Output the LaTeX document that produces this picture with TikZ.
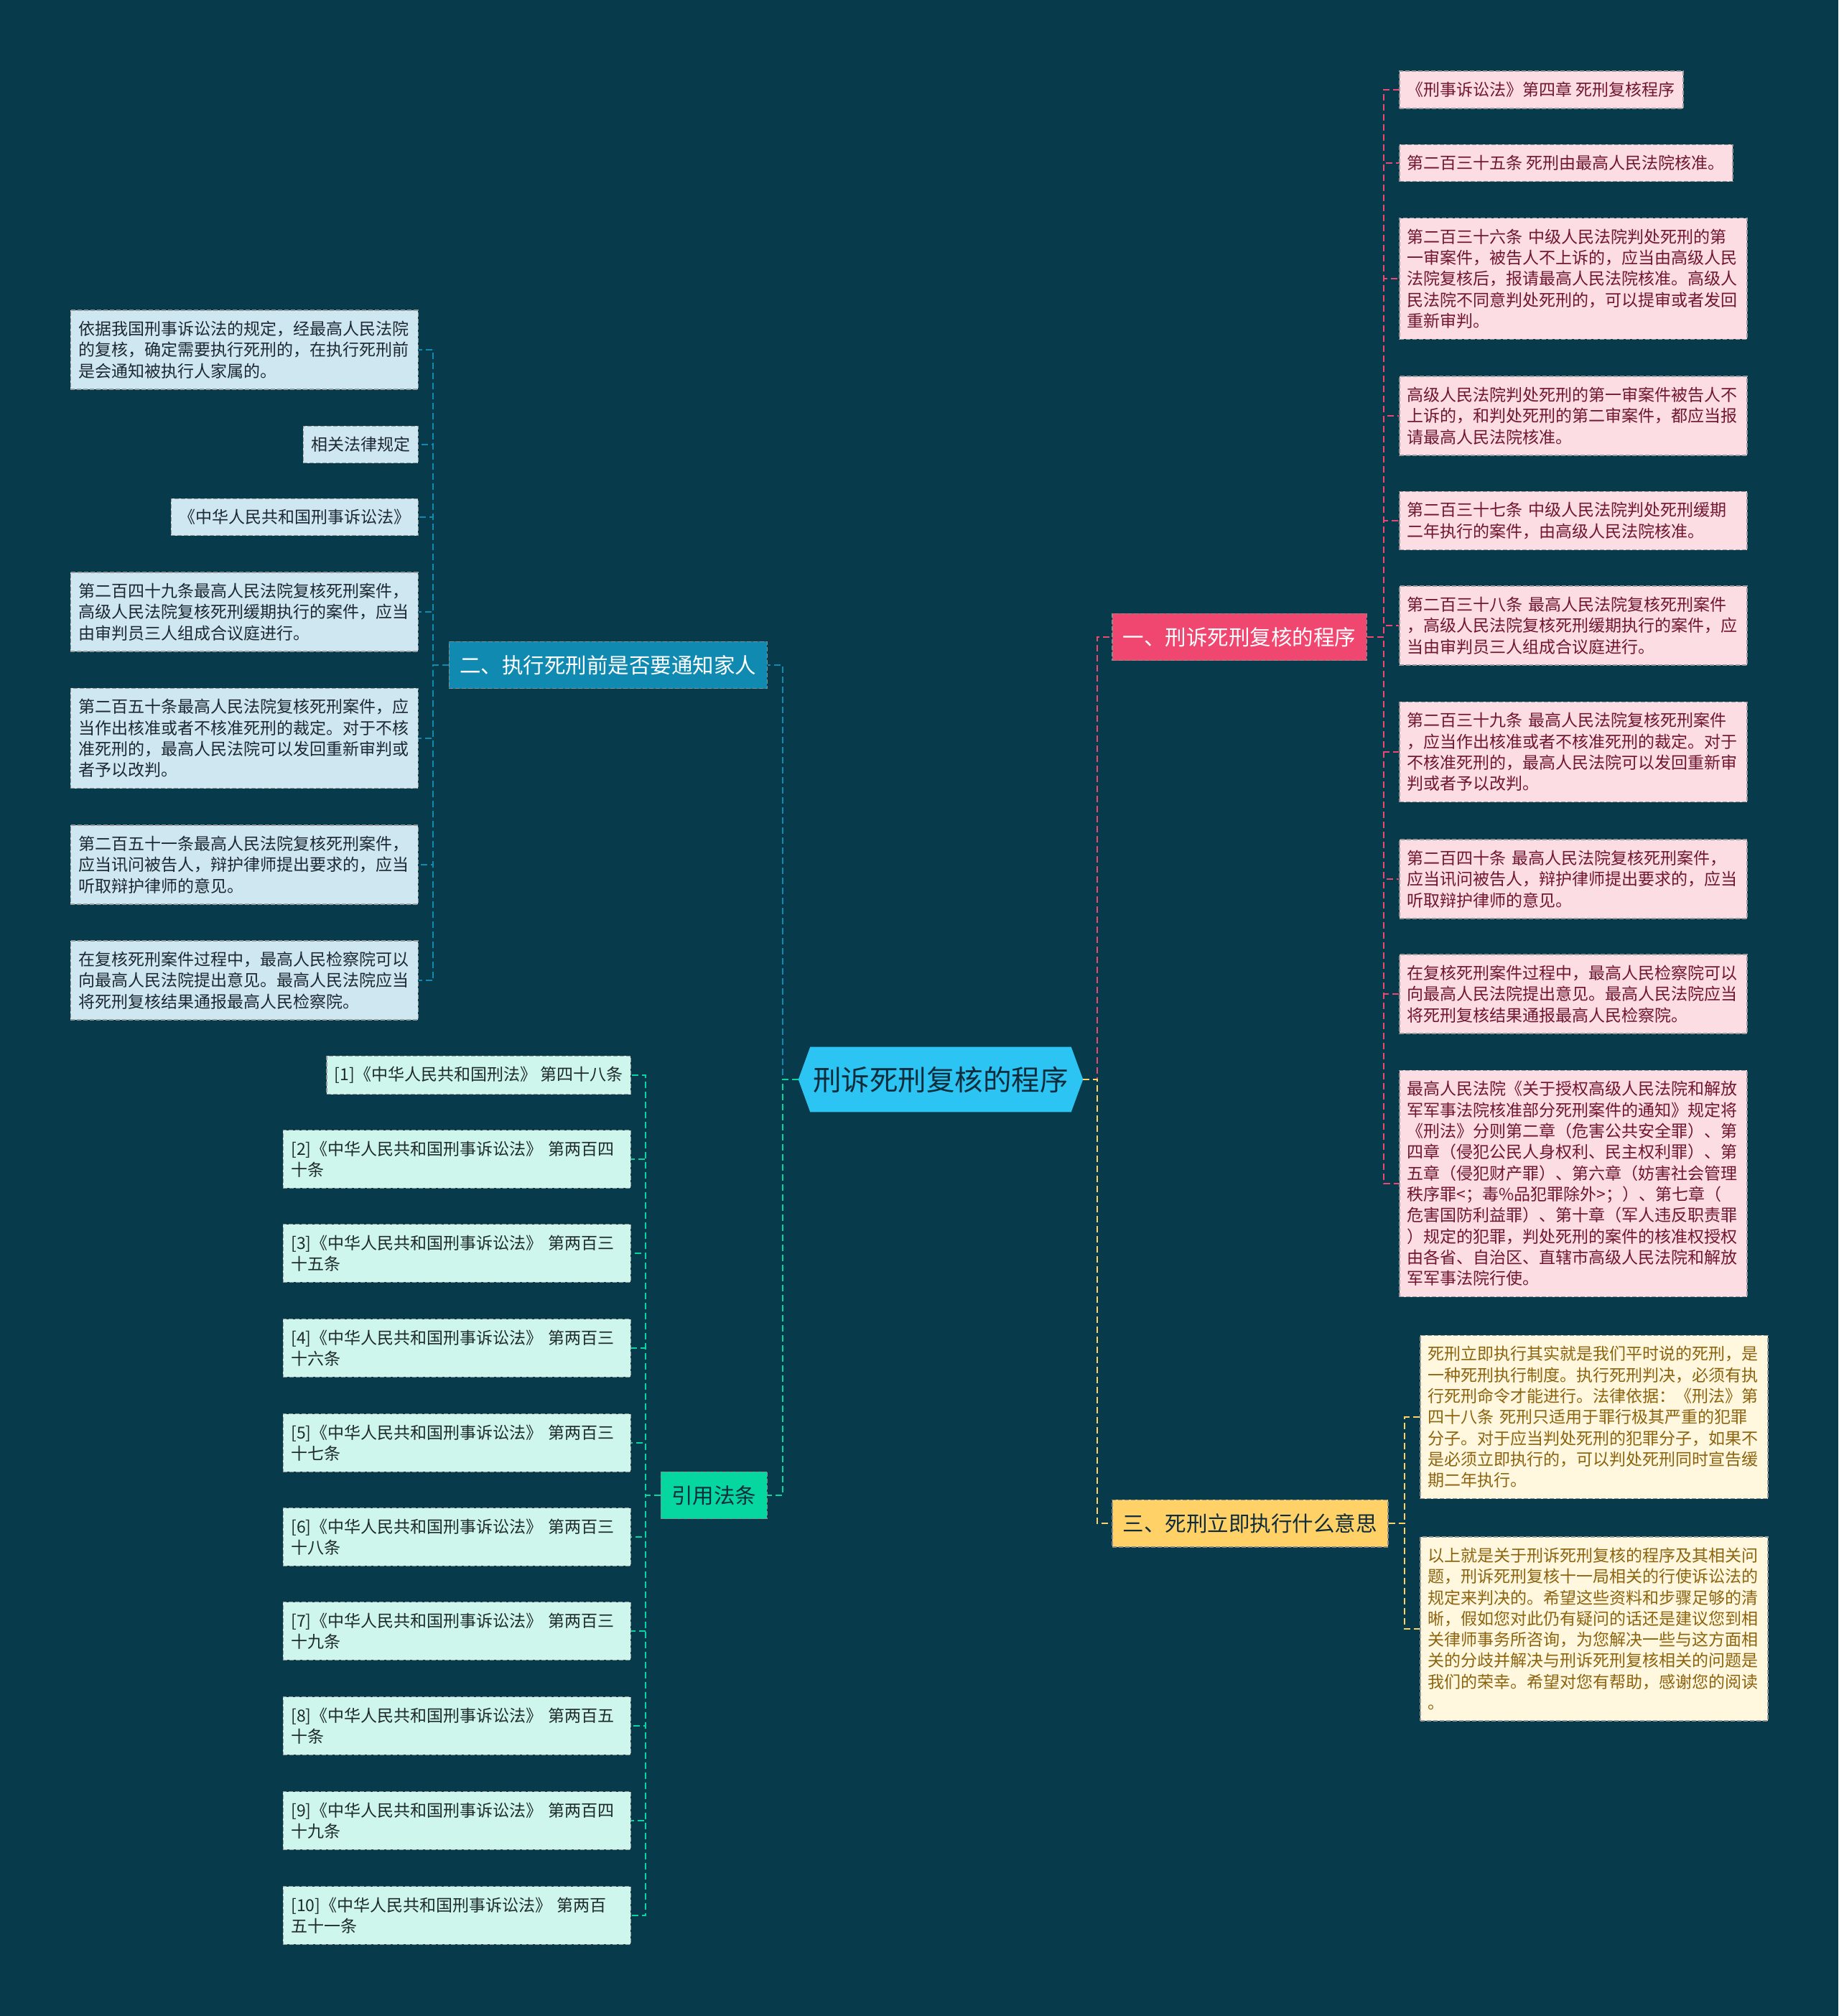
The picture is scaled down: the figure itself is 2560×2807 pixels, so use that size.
\documentclass[tikz,border=0pt]{standalone}
\usepackage{fontspec}
\setmainfont{Noto Sans CJK SC}
\usepackage{tikz}
\usetikzlibrary{shapes.symbols}
\usepackage{xcolor}
\definecolor{mapbg}{RGB}{7,59,76}
\definecolor{rootblue}{RGB}{44,196,242}
\definecolor{roottext}{RGB}{14,44,60}
\definecolor{mapred}{RGB}{239,71,111}
\definecolor{mapblue}{RGB}{17,138,178}
\definecolor{mapgreen}{RGB}{6,214,160}
\definecolor{mapyellow}{RGB}{255,209,102}
\definecolor{leafredfill}{RGB}{252,221,228}
\definecolor{leafredtext}{RGB}{112,22,46}
\definecolor{leafbluefill}{RGB}{207,231,240}
\definecolor{leafbluetext}{RGB}{28,40,52}
\definecolor{leafgreenfill}{RGB}{206,246,236}
\definecolor{leafgreentext}{RGB}{30,42,44}
\definecolor{leafyellowfill}{RGB}{255,247,222}
\definecolor{leafyellowtext}{RGB}{140,100,16}
\newcommand{\rootfont}{\fontsize{39.5}{46}\selectfont}
\newcommand{\branchfont}{\fontsize{29.5}{35}\selectfont}
\newcommand{\leaffont}{\fontsize{23}{29.3}\selectfont}
\tikzset{
    topic/.style={signal, signal to=west and east, signal pointer angle=140, fill=rootblue, text=roottext, font=\rootfont, inner xsep=4pt, inner ysep=27pt},
    branch/.style={rectangle, draw=black!45, dash pattern=on 6pt off 3pt, line width=1.5pt, font=\branchfont, inner xsep=15pt, inner ysep=19pt},
    branchR/.style={branch, fill=mapred, text=white},
    branchB/.style={branch, fill=mapblue, text=white},
    branchG/.style={branch, fill=mapgreen, text=roottext},
    branchY/.style={branch, fill=mapyellow, text=roottext},
    leaf/.style={rectangle, draw=black!40, dash pattern=on 6pt off 3pt, line width=1.5pt, font=\leaffont, inner xsep=11pt, inner ysep=15pt, align=left},
    leafR/.style={leaf, fill=leafredfill, text=leafredtext},
    leafB/.style={leaf, fill=leafbluefill, text=leafbluetext},
    leafG/.style={leaf, fill=leafgreenfill, text=leafgreentext},
    leafY/.style={leaf, fill=leafyellowfill, text=leafyellowtext},
    wide/.style={text width=462pt},
    link/.style={line width=2pt, dash pattern=on 9pt off 5pt},
    linkR/.style={link, mapred},
    linkB/.style={link, mapblue},
    linkG/.style={link, mapgreen},
    linkY/.style={link, mapyellow},
}

\begin{document}
\begin{tikzpicture}[x=1pt, y=-1pt]
    \fill[mapbg] (0,0) rectangle (2560,2807);
    \useasboundingbox (0,0) rectangle (2560,2807);

    % centre and main branches
    \node[topic] (root) at (1310,1503) {刑诉死刑复核的程序};
    \node[branchR, anchor=west] (b1) at (1548,887) {一、刑诉死刑复核的程序};
    \node[branchB, anchor=east] (b2) at (1069,926) {二、执行死刑前是否要通知家人};
    \node[branchY, anchor=west] (b3) at (1548,2121) {三、死刑立即执行什么意思};
    \node[branchG, anchor=east] (b4) at (1069,2082) {引用法条};

    \coordinate (jl) at (1090,1503);
    \coordinate (jr) at (1528,1503);
    \coordinate (tR) at (1927,887);
    \coordinate (tB) at (603,926);
    \coordinate (tY) at (1956,2121);
    \coordinate (tG) at (899,2082);

    % branch one
    \node[leafR, anchor=west] (r1) at (1948,125) {《刑事诉讼法》第四章 死刑复核程序};
    \node[leafR, anchor=west] (r2) at (1948,227) {第二百三十五条 死刑由最高人民法院核准。};
    \node[leafR, wide, anchor=west] (r3) at (1948,388) {第二百三十六条 中级人民法院判处死刑的第\\一审案件，被告人不上诉的，应当由高级人民\\法院复核后，报请最高人民法院核准。高级人\\民法院不同意判处死刑的，可以提审或者发回\\重新审判。};
    \node[leafR, wide, anchor=west] (r4) at (1948,579) {高级人民法院判处死刑的第一审案件被告人不\\上诉的，和判处死刑的第二审案件，都应当报\\请最高人民法院核准。};
    \node[leafR, wide, anchor=west] (r5) at (1948,725) {第二百三十七条 中级人民法院判处死刑缓期\\二年执行的案件，由高级人民法院核准。};
    \node[leafR, wide, anchor=west] (r6) at (1948,871) {第二百三十八条 最高人民法院复核死刑案件\\，高级人民法院复核死刑缓期执行的案件，应\\当由审判员三人组成合议庭进行。};
    \node[leafR, wide, anchor=west] (r7) at (1948,1047) {第二百三十九条 最高人民法院复核死刑案件\\，应当作出核准或者不核准死刑的裁定。对于\\不核准死刑的，最高人民法院可以发回重新审\\判或者予以改判。};
    \node[leafR, wide, anchor=west] (r8) at (1948,1224) {第二百四十条 最高人民法院复核死刑案件，\\应当讯问被告人，辩护律师提出要求的，应当\\听取辩护律师的意见。};
    \node[leafR, wide, anchor=west] (r9) at (1948,1384) {在复核死刑案件过程中，最高人民检察院可以\\向最高人民法院提出意见。最高人民法院应当\\将死刑复核结果通报最高人民检察院。};
    \node[leafR, wide, anchor=west] (r10) at (1948,1648) {最高人民法院《关于授权高级人民法院和解放\\军军事法院核准部分死刑案件的通知》规定将\\《刑法》分则第二章（危害公共安全罪）、第\\四章（侵犯公民人身权利、民主权利罪）、第\\五章（侵犯财产罪）、第六章（妨害社会管理\\秩序罪<；毒\%品犯罪除外>；）、第七章（\\危害国防利益罪）、第十章（军人违反职责罪\\）规定的犯罪，判处死刑的案件的核准权授权\\由各省、自治区、直辖市高级人民法院和解放\\军军事法院行使。};

    % branch two
    \node[leafB, wide, anchor=east] (l1) at (583,487) {依据我国刑事诉讼法的规定，经最高人民法院\\的复核，确定需要执行死刑的，在执行死刑前\\是会通知被执行人家属的。};
    \node[leafB, anchor=east] (l2) at (583,619) {相关法律规定};
    \node[leafB, anchor=east] (l3) at (583,720) {《中华人民共和国刑事诉讼法》};
    \node[leafB, wide, anchor=east] (l4) at (583,852) {第二百四十九条最高人民法院复核死刑案件，\\高级人民法院复核死刑缓期执行的案件，应当\\由审判员三人组成合议庭进行。};
    \node[leafB, wide, anchor=east] (l5) at (583,1028) {第二百五十条最高人民法院复核死刑案件，应\\当作出核准或者不核准死刑的裁定。对于不核\\准死刑的，最高人民法院可以发回重新审判或\\者予以改判。};
    \node[leafB, wide, anchor=east] (l6) at (583,1204) {第二百五十一条最高人民法院复核死刑案件，\\应当讯问被告人，辩护律师提出要求的，应当\\听取辩护律师的意见。};
    \node[leafB, wide, anchor=east] (l7) at (583,1365) {在复核死刑案件过程中，最高人民检察院可以\\向最高人民法院提出意见。最高人民法院应当\\将死刑复核结果通报最高人民检察院。};

    % branch three
    \node[leafY, wide, anchor=west] (y1) at (1977,1973) {死刑立即执行其实就是我们平时说的死刑，是\\一种死刑执行制度。执行死刑判决，必须有执\\行死刑命令才能进行。法律依据：《刑法》第\\四十八条 死刑只适用于罪行极其严重的犯罪\\分子。对于应当判处死刑的犯罪分子，如果不\\是必须立即执行的，可以判处死刑同时宣告缓\\期二年执行。};
    \node[leafY, wide, anchor=west] (y2) at (1977,2268) {以上就是关于刑诉死刑复核的程序及其相关问\\题，刑诉死刑复核十一局相关的行使诉讼法的\\规定来判决的。希望这些资料和步骤足够的清\\晰，假如您对此仍有疑问的话还是建议您到相\\关律师事务所咨询，为您解决一些与这方面相\\关的分歧并解决与刑诉死刑复核相关的问题是\\我们的荣幸。希望对您有帮助，感谢您的阅读\\。};

    % cited articles
    \node[leafG, anchor=east] (g1) at (879,1497) {[1]《中华人民共和国刑法》 第四十八条};
    \node[leafG, wide, anchor=east] (g2) at (879,1614) {[2]《中华人民共和国刑事诉讼法》 第两百四\\十条};
    \node[leafG, wide, anchor=east] (g3) at (879,1745) {[3]《中华人民共和国刑事诉讼法》 第两百三\\十五条};
    \node[leafG, wide, anchor=east] (g4) at (879,1877) {[4]《中华人民共和国刑事诉讼法》 第两百三\\十六条};
    \node[leafG, wide, anchor=east] (g5) at (879,2009) {[5]《中华人民共和国刑事诉讼法》 第两百三\\十七条};
    \node[leafG, wide, anchor=east] (g6) at (879,2140) {[6]《中华人民共和国刑事诉讼法》 第两百三\\十八条};
    \node[leafG, wide, anchor=east] (g7) at (879,2271) {[7]《中华人民共和国刑事诉讼法》 第两百三\\十九条};
    \node[leafG, wide, anchor=east] (g8) at (879,2403) {[8]《中华人民共和国刑事诉讼法》 第两百五\\十条};
    \node[leafG, wide, anchor=east] (g9) at (879,2535) {[9]《中华人民共和国刑事诉讼法》 第两百四\\十九条};
    \node[leafG, wide, anchor=east] (g10) at (879,2667) {[10]《中华人民共和国刑事诉讼法》 第两百\\五十一条};

    % links from the centre
    \draw[linkR] (root.east) -- (jr) |- (b1.west);
    \draw[linkY] (root.east) -- (jr) |- (b3.west);
    \draw[linkB] (root.west) -- (jl) |- (b2.east);
    \draw[linkG] (root.west) -- (jl) |- (b4.east);

    % links to the leaves
    \draw[linkR] (b1.east) -- (tR) |- (r1.west);
    \draw[linkR] (b1.east) -- (tR) |- (r2.west);
    \draw[linkR] (b1.east) -- (tR) |- (r3.west);
    \draw[linkR] (b1.east) -- (tR) |- (r4.west);
    \draw[linkR] (b1.east) -- (tR) |- (r5.west);
    \draw[linkR] (b1.east) -- (tR) |- (r6.west);
    \draw[linkR] (b1.east) -- (tR) |- (r7.west);
    \draw[linkR] (b1.east) -- (tR) |- (r8.west);
    \draw[linkR] (b1.east) -- (tR) |- (r9.west);
    \draw[linkR] (b1.east) -- (tR) |- (r10.west);
    \draw[linkB] (b2.west) -- (tB) |- (l1.east);
    \draw[linkB] (b2.west) -- (tB) |- (l2.east);
    \draw[linkB] (b2.west) -- (tB) |- (l3.east);
    \draw[linkB] (b2.west) -- (tB) |- (l4.east);
    \draw[linkB] (b2.west) -- (tB) |- (l5.east);
    \draw[linkB] (b2.west) -- (tB) |- (l6.east);
    \draw[linkB] (b2.west) -- (tB) |- (l7.east);
    \draw[linkY] (b3.east) -- (tY) |- (y1.west);
    \draw[linkY] (b3.east) -- (tY) |- (y2.west);
    \draw[linkG] (b4.west) -- (tG) |- (g1.east);
    \draw[linkG] (b4.west) -- (tG) |- (g2.east);
    \draw[linkG] (b4.west) -- (tG) |- (g3.east);
    \draw[linkG] (b4.west) -- (tG) |- (g4.east);
    \draw[linkG] (b4.west) -- (tG) |- (g5.east);
    \draw[linkG] (b4.west) -- (tG) |- (g6.east);
    \draw[linkG] (b4.west) -- (tG) |- (g7.east);
    \draw[linkG] (b4.west) -- (tG) |- (g8.east);
    \draw[linkG] (b4.west) -- (tG) |- (g9.east);
    \draw[linkG] (b4.west) -- (tG) |- (g10.east);
\end{tikzpicture}
\end{document}
